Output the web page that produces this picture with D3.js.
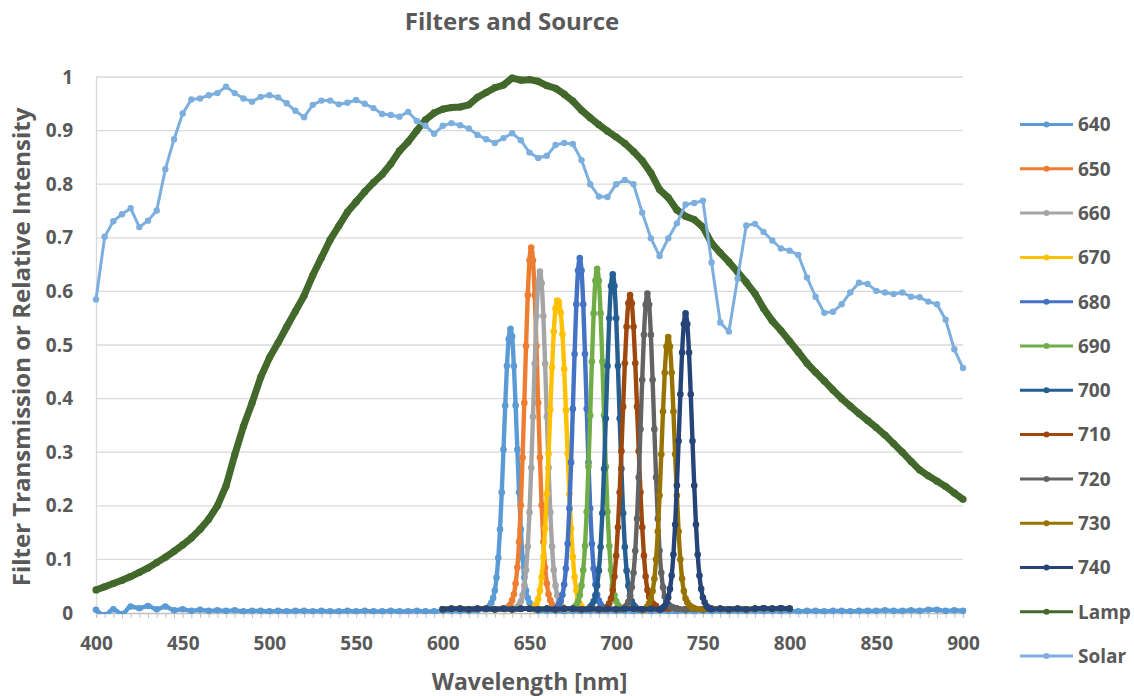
<!DOCTYPE html>
<html>
<head>
<meta charset="utf-8">
<script src="https://cdn.jsdelivr.net/npm/d3@7"></script>
<style>
  body { margin: 0; background: #fff; }
  svg text { font-family: 'Open Sans', Lato, sans-serif; font-weight: bold; fill: #595959; }
</style>
</head>
<body>
<div id="chart"></div>
<script>
// filters and source spectra
const xTicks = [400, 450, 500, 550, 600, 650, 700, 750, 800, 850, 900];
const yTicks = [0, 0.1, 0.2, 0.3, 0.4, 0.5, 0.6, 0.7, 0.8, 0.9, 1];

// solar and lamp, one value every 5 nm from 400 to 900
const solarValues = [0.585, 0.702, 0.731, 0.744, 0.755, 0.720, 0.732, 0.751, 0.828, 0.884,
  0.932, 0.958, 0.960, 0.966, 0.970, 0.982, 0.970, 0.960, 0.954, 0.963,
  0.966, 0.962, 0.951, 0.937, 0.925, 0.948, 0.956, 0.956, 0.949, 0.952,
  0.957, 0.950, 0.942, 0.931, 0.929, 0.926, 0.935, 0.918, 0.909, 0.894,
  0.909, 0.914, 0.910, 0.904, 0.892, 0.884, 0.877, 0.886, 0.895, 0.882,
  0.859, 0.849, 0.853, 0.873, 0.877, 0.875, 0.845, 0.800, 0.777, 0.776,
  0.800, 0.808, 0.800, 0.747, 0.699, 0.666, 0.699, 0.727, 0.762, 0.765,
  0.769, 0.654, 0.542, 0.525, 0.624, 0.723, 0.726, 0.711, 0.695, 0.680,
  0.676, 0.668, 0.626, 0.590, 0.560, 0.562, 0.576, 0.598, 0.616, 0.614,
  0.601, 0.598, 0.595, 0.598, 0.590, 0.589, 0.581, 0.576, 0.547, 0.492,
  0.457];

const lampValues = [0.043, 0.049, 0.055, 0.061, 0.068, 0.076, 0.084, 0.094, 0.104, 0.115,
  0.127, 0.140, 0.156, 0.175, 0.200, 0.237, 0.295, 0.348, 0.392, 0.440,
  0.476, 0.504, 0.534, 0.563, 0.592, 0.630, 0.663, 0.696, 0.722, 0.748,
  0.767, 0.786, 0.803, 0.818, 0.838, 0.862, 0.879, 0.900, 0.920, 0.933,
  0.940, 0.943, 0.944, 0.948, 0.962, 0.971, 0.980, 0.985, 0.998, 0.994,
  0.995, 0.992, 0.984, 0.979, 0.968, 0.955, 0.938, 0.924, 0.911, 0.899,
  0.888, 0.876, 0.861, 0.844, 0.821, 0.790, 0.775, 0.752, 0.740, 0.734,
  0.720, 0.690, 0.672, 0.655, 0.636, 0.617, 0.596, 0.568, 0.545, 0.527,
  0.507, 0.487, 0.466, 0.449, 0.433, 0.416, 0.400, 0.386, 0.372, 0.359,
  0.346, 0.332, 0.316, 0.300, 0.283, 0.267, 0.256, 0.246, 0.236, 0.224,
  0.212];

const filterNames = ['640', '650', '660', '670', '680', '690', '700', '710', '720', '730', '740'];
const filterColors = ['#5B9BD5', '#ED7D31', '#A5A5A5', '#FFC000', '#4472C4', '#70AD47',
  '#255E91', '#9E480E', '#636363', '#997300', '#264478'];

// first wavelength of each peak, then one value per nm
const peakStart = [624, 636, 641, 651, 664, 674, 683, 693, 703, 715, 725];
const peakValues = [
  [0.007, 0.007, 0.009, 0.013, 0.019, 0.028, 0.042, 0.066, 0.103, 0.156, 0.225, 0.305, 0.387, 0.461, 0.511, 0.530, 0.516, 0.461, 0.387, 0.305, 0.225, 0.156, 0.103, 0.066, 0.042, 0.028, 0.019, 0.013, 0.009, 0.007, 0.006],
  [0.007, 0.008, 0.012, 0.016, 0.024, 0.035, 0.055, 0.085, 0.133, 0.201, 0.290, 0.392, 0.498, 0.593, 0.658, 0.682, 0.658, 0.593, 0.498, 0.392, 0.290, 0.201, 0.133, 0.085, 0.055, 0.035, 0.024, 0.016, 0.012, 0.008, 0.007],
  [0.007, 0.008, 0.011, 0.015, 0.022, 0.033, 0.051, 0.080, 0.124, 0.188, 0.271, 0.366, 0.465, 0.554, 0.615, 0.637, 0.615, 0.554, 0.465, 0.366, 0.271, 0.188, 0.124, 0.080, 0.051, 0.033, 0.022, 0.015, 0.011, 0.008, 0.007],
  [0.007, 0.008, 0.012, 0.017, 0.026, 0.042, 0.067, 0.105, 0.157, 0.222, 0.297, 0.379, 0.458, 0.525, 0.568, 0.583, 0.580, 0.560, 0.520, 0.455, 0.378, 0.297, 0.222, 0.157, 0.105, 0.067, 0.042, 0.026, 0.017, 0.012, 0.008],
  [0.007, 0.008, 0.011, 0.016, 0.023, 0.034, 0.053, 0.083, 0.129, 0.195, 0.281, 0.381, 0.483, 0.576, 0.639, 0.662, 0.639, 0.576, 0.483, 0.381, 0.281, 0.195, 0.129, 0.083, 0.053, 0.034, 0.023, 0.016, 0.011, 0.008, 0.007],
  [0.007, 0.008, 0.011, 0.015, 0.022, 0.033, 0.051, 0.080, 0.125, 0.189, 0.273, 0.369, 0.469, 0.559, 0.620, 0.642, 0.620, 0.559, 0.469, 0.369, 0.273, 0.189, 0.125, 0.080, 0.051, 0.033, 0.022, 0.015, 0.011, 0.008, 0.007],
  [0.007, 0.008, 0.011, 0.015, 0.022, 0.033, 0.051, 0.079, 0.123, 0.186, 0.269, 0.363, 0.461, 0.550, 0.610, 0.632, 0.610, 0.550, 0.461, 0.363, 0.269, 0.186, 0.123, 0.079, 0.051, 0.033, 0.022, 0.015, 0.011, 0.008, 0.007],
  [0.007, 0.008, 0.012, 0.018, 0.027, 0.043, 0.068, 0.107, 0.160, 0.225, 0.302, 0.385, 0.466, 0.534, 0.578, 0.593, 0.578, 0.534, 0.466, 0.385, 0.302, 0.225, 0.160, 0.107, 0.068, 0.043, 0.030, 0.022, 0.018, 0.015, 0.013],
  [0.007, 0.007, 0.010, 0.014, 0.021, 0.031, 0.048, 0.075, 0.116, 0.176, 0.253, 0.343, 0.435, 0.519, 0.575, 0.596, 0.575, 0.519, 0.435, 0.343, 0.253, 0.176, 0.116, 0.075, 0.048, 0.031, 0.021, 0.016, 0.013, 0.011, 0.010],
  [0.006, 0.006, 0.009, 0.012, 0.018, 0.027, 0.041, 0.064, 0.100, 0.152, 0.219, 0.296, 0.376, 0.448, 0.497, 0.515, 0.497, 0.448, 0.376, 0.296, 0.219, 0.152, 0.100, 0.064, 0.041, 0.027, 0.020, 0.015, 0.012, 0.010, 0.009],
  [0.007, 0.007, 0.010, 0.013, 0.020, 0.029, 0.045, 0.070, 0.109, 0.165, 0.238, 0.321, 0.408, 0.486, 0.539, 0.559, 0.539, 0.486, 0.408, 0.321, 0.238, 0.165, 0.109, 0.070, 0.045, 0.029, 0.020, 0.013, 0.010, 0.008, 0.007]
];

// filter floor, every 5 nm from 600 to 800 (650..740 filters)
const filterFloor = [0.007, 0.008, 0.008, 0.007, 0.008, 0.008, 0.007, 0.008, 0.007, 0.008,
  0.008, 0.007, 0.008, 0.007, 0.008, 0.008, 0.007, 0.008, 0.007, 0.008,
  0.007, 0.008, 0.008, 0.007, 0.008, 0.007, 0.008, 0.008, 0.007, 0.008,
  0.007, 0.008, 0.008, 0.007, 0.008, 0.007, 0.008, 0.009, 0.008, 0.009,
  0.008];

// the 640 filter was measured over the whole range, every 5 nm from 400 to 900
const floor640 = [0.006, -0.004, 0.007, -0.002, 0.012, 0.009, 0.013, 0.007, 0.012, 0.005,
  0.007, 0.004, 0.006, 0.004, 0.005, 0.004, 0.005, 0.003, 0.004, 0.004,
  0.003, 0.004, 0.003, 0.004, 0.004, 0.003, 0.004, 0.003, 0.003, 0.004,
  0.003, 0.004, 0.003, 0.003, 0.004, 0.003, 0.003, 0.004, 0.003, 0.003,
  0.004, 0.004, 0.004, 0.004, 0.005, 0.005, 0.005, 0.005, 0.005, 0.005,
  0.005, 0.004, 0.004, 0.004, 0.003, 0.004, 0.003, 0.004, 0.003, 0.004,
  0.003, 0.004, 0.003, 0.004, 0.003, 0.004, 0.003, 0.003, 0.004, 0.003,
  0.004, 0.003, 0.004, 0.003, 0.004, 0.003, 0.004, 0.003, 0.004, 0.003,
  0.004, 0.003, 0.004, 0.004, 0.003, 0.004, 0.004, 0.003, 0.004, 0.004,
  0.004, 0.005, 0.004, 0.004, 0.005, 0.004, 0.006, 0.006, 0.004, 0.005,
  0.004];

const sourceNames = ['Lamp', 'Solar'];
const sourceColors = ['#43682B', '#7CAFDD'];

// build the series as [nm, value] points
const grid5 = (start, values) => values.map((v, i) => [start + i * 5, v]);

const filterSeries = filterNames.map((name, i) => {
  const start = peakStart[i];
  const end = start + peakValues[i].length - 1;
  const floor = i === 0 ? grid5(400, floor640) : grid5(600, filterFloor);
  const peak = peakValues[i].map((v, k) => [start + k, v]);
  const pts = floor.filter(p => p[0] < start || p[0] > end).concat(peak);
  pts.sort((a, b) => a[0] - b[0]);
  return { name: name, color: filterColors[i], points: pts, width: 4.4, r: 3.3, curve: d3.curveMonotoneX };
});

const sourceSeries = [
  { name: sourceNames[0], color: sourceColors[0], points: grid5(400, lampValues), width: 7, r: 3.6, curve: d3.curveLinear },
  { name: sourceNames[1], color: sourceColors[1], points: grid5(400, solarValues), width: 3, r: 3.2, curve: d3.curveLinear }
];

const allSeries = filterSeries.concat(sourceSeries);

const width = 1134, height = 696;
const margin = { top: 77, right: 171, bottom: 83, left: 96 };
const innerW = width - margin.left - margin.right;
const innerH = height - margin.top - margin.bottom;

const svg = d3.select('#chart')
  .append('svg')
  .attr('width', width)
  .attr('height', height);

const x = d3.scaleLinear().domain([400, 900]).range([0, innerW]);
const y = d3.scaleLinear().domain([0, 1]).range([innerH, 0]);

svg.append('defs').append('clipPath')
  .attr('id', 'plotclip')
  .append('rect')
  .attr('x', -8).attr('y', -8)
  .attr('width', innerW + 16).attr('height', innerH + 9);

const g = svg.append('g').attr('transform', `translate(${margin.left},${margin.top})`);

// gridlines
g.append('g')
  .selectAll('line')
  .data(yTicks.filter(d => d > 0))
  .join('line')
  .attr('x1', 0).attr('x2', innerW)
  .attr('y1', d => y(d)).attr('y2', d => y(d))
  .attr('stroke', '#D9D9D9')
  .attr('stroke-width', 1.3);

// y axis
const yAxis = g.append('g')
  .call(d3.axisLeft(y).tickValues(yTicks).tickSize(0).tickPadding(23)
    .tickFormat(d => (d === 0 || d === 1) ? String(d) : d.toFixed(1)));
yAxis.select('.domain').attr('stroke', '#D9D9D9').attr('stroke-width', 1.3);
yAxis.selectAll('text').attr('font-size', 19).attr('fill', '#595959');

// x axis, minor ticks every 5 nm
const xAxis = g.append('g')
  .attr('transform', `translate(0,${innerH})`)
  .call(d3.axisBottom(x).tickValues(d3.range(400, 901, 5)).tickSize(5).tickPadding(19)
    .tickFormat(d => xTicks.includes(d) ? d : ''));
xAxis.select('.domain').attr('stroke', '#BFBFBF').attr('stroke-width', 1.3);
xAxis.selectAll('.tick line').attr('stroke', '#BFBFBF').attr('stroke-width', 1);
xAxis.selectAll('text').attr('font-size', 19).attr('fill', '#595959');

// series
const line = d3.line().x(d => x(d[0])).y(d => y(d[1]));
const plot = g.append('g').attr('clip-path', 'url(#plotclip)');

allSeries.forEach(s => {
  const sg = plot.append('g');
  sg.append('path')
    .datum(s.points)
    .attr('fill', 'none')
    .attr('stroke', s.color)
    .attr('stroke-width', s.width)
    .attr('stroke-linejoin', 'round')
    .attr('d', line.curve(s.curve));
  sg.selectAll('circle')
    .data(s.points)
    .join('circle')
    .attr('cx', d => x(d[0]))
    .attr('cy', d => y(d[1]))
    .attr('r', s.r)
    .attr('fill', s.color);
});

// title and axis titles
svg.append('text')
  .attr('x', 512).attr('y', 30)
  .attr('text-anchor', 'middle')
  .attr('font-size', 24)
  .text('Filters and Source');

svg.append('text')
  .attr('x', margin.left + innerW / 2).attr('y', 690)
  .attr('text-anchor', 'middle')
  .attr('font-size', 23)
  .text('Wavelength [nm]');

svg.append('text')
  .attr('transform', `translate(30,${margin.top + innerH / 2 + 2}) rotate(-90)`)
  .attr('text-anchor', 'middle')
  .attr('font-size', 24)
  .text('Filter Transmission or Relative Intensity');

// legend
const legend = svg.append('g')
  .selectAll('g')
  .data(allSeries)
  .join('g')
  .attr('transform', (d, i) => `translate(1020,${124.5 + i * 44.3})`);

legend.append('line')
  .attr('x1', 0).attr('x2', 53)
  .attr('stroke', d => d.color)
  .attr('stroke-width', 3);

legend.append('circle')
  .attr('cx', 26.5)
  .attr('r', 3)
  .attr('fill', d => d.color);

legend.append('text')
  .attr('x', 58)
  .attr('dy', '0.36em')
  .attr('font-size', 19)
  .text(d => d.name);
</script>
</body>
</html>
